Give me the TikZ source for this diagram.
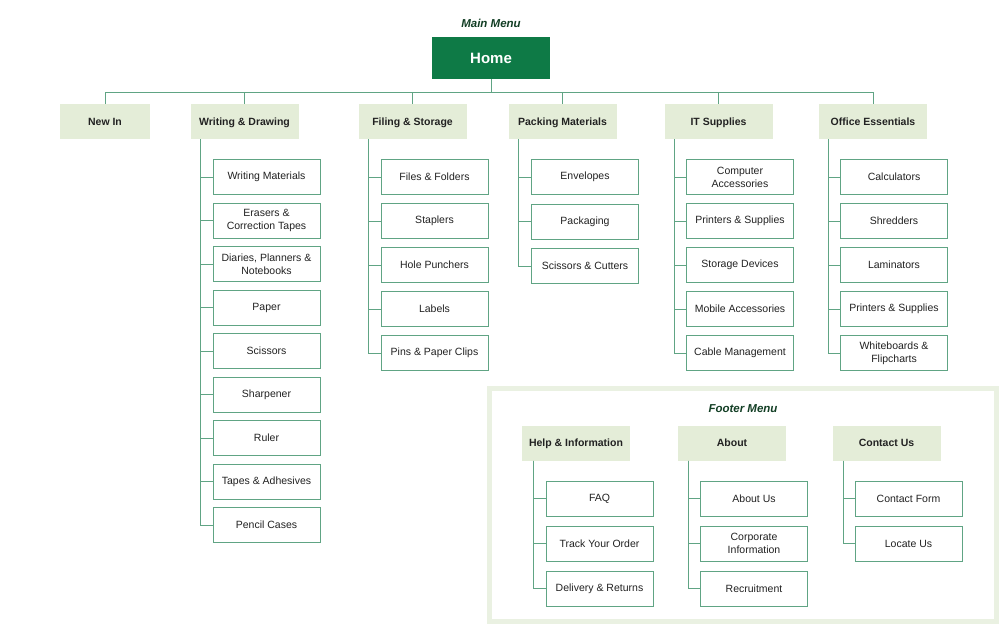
\documentclass[tikz,border=0pt]{standalone}
\usepackage{fontspec}
\setmainfont{Liberation Sans}
\definecolor{homegreen}{RGB}{14,122,70}
\definecolor{titlegreen}{RGB}{18,62,36}
\definecolor{linegreen}{RGB}{96,164,132}
\definecolor{catfill}{RGB}{228,237,216}
\definecolor{framefill}{RGB}{234,241,226}
\definecolor{txt}{RGB}{34,34,34}
\tikzstyle{home}=[
	fill=homegreen,
	text=white,
	minimum width=118pt,
	minimum height=42pt,
	inner sep=0pt,
	font=\bfseries\fontsize{15}{18}\selectfont
]
\tikzstyle{category}=[
	fill=catfill,
	text=txt,
	minimum width=108pt,
	minimum height=35pt,
	text height=7.6pt,
	text depth=0pt,
	inner sep=0pt,
	font=\bfseries\fontsize{10.5}{12}\selectfont
]
\tikzstyle{item}=[
	draw=linegreen,
	fill=white,
	text=txt,
	line width=1pt,
	minimum width=107pt,
	minimum height=35pt,
	inner sep=0pt,
	align=center,
	font=\fontsize{10.5}{13}\selectfont
]
\tikzstyle{heading}=[text=titlegreen,font=\bfseries\itshape\fontsize{11.5}{13}\selectfont]
\tikzstyle{edge}=[draw=linegreen,line width=1pt]

\begin{document}
\begin{tikzpicture}[x=1pt,y=-1pt]
	\useasboundingbox (0,0) rectangle (1000,625);

	% main menu
	\node[heading] (mainmenu) at (491,23) {Main Menu};
	\node[home] (home) at (491,58) {Home};
	\coordinate (bus) at (491,92);

	\node[category,minimum width=90pt] (newin) at (105,121.5) {New In};
	\node[category] (wd) at (244.5,121.5) {Writing \& Drawing};
	\node[category] (fs) at (412.5,121.5) {Filing \& Storage};
	\node[category] (pm) at (562.5,121.5) {Packing Materials};
	\node[category] (it) at (718.5,121.5) {IT Supplies};
	\node[category] (oe) at (873,121.5) {Office Essentials};

	\path[edge] (home.south) -- (bus);
	\foreach \c in {newin,wd,fs,pm,it,oe}
		\path[edge] (\c.north) |- (bus);

	% sub menus
	\foreach \txt [count=\i] in {Writing Materials,{Erasers \&\\Correction Tapes},
		{Diaries, Planners \&\\Notebooks},Paper,Scissors,Sharpener,Ruler,
		Tapes \& Adhesives,Pencil Cases}
		\node[item] (wd\i) at (266.5,{177+43.5*(\i-1)}) {\txt};
	\foreach \txt [count=\i] in {Files \& Folders,Staplers,Hole Punchers,Labels,
		Pins \& Paper Clips}
		\node[item] (fs\i) at (434.5,{177+44*(\i-1)}) {\txt};
	\foreach \txt [count=\i] in {Envelopes,Packaging,Scissors \& Cutters}
		\node[item] (pm\i) at (585,{177+44.5*(\i-1)}) {\txt};
	\foreach \txt [count=\i] in {{Computer\\Accessories},Printers \& Supplies,
		Storage Devices,Mobile Accessories,Cable Management}
		\node[item] (it\i) at (740,{177+44*(\i-1)}) {\txt};
	\foreach \txt [count=\i] in {Calculators,Shredders,Laminators,
		Printers \& Supplies,{Whiteboards \&\\Flipcharts}}
		\node[item] (oe\i) at (894,{177+44*(\i-1)}) {\txt};

	\foreach \i in {1,...,9}
		\path[edge] ([xshift=10pt]wd.south west) |- (wd\i.west);
	\foreach \i in {1,...,5}
		\path[edge] ([xshift=10pt]fs.south west) |- (fs\i.west);
	\foreach \i in {1,...,3}
		\path[edge] ([xshift=10pt]pm.south west) |- (pm\i.west);
	\foreach \i in {1,...,5}
		\path[edge] ([xshift=10pt]it.south west) |- (it\i.west);
	\foreach \i in {1,...,5}
		\path[edge] ([xshift=10pt]oe.south west) |- (oe\i.west);

	% footer menu
	\draw[draw=framefill,line width=5pt] (489.5,388.5) rectangle (996.5,621.5);
	\node[heading] (footermenu) at (743,409) {Footer Menu};

	\node[category] (hi) at (576,443) {Help \& Information};
	\node[category] (ab) at (732,443) {About};
	\node[category] (cu) at (886.5,443) {Contact Us};

	\foreach \txt [count=\i] in {FAQ,Track Your Order,Delivery \& Returns}
		\node[item] (hi\i) at (599.5,{498.5+45*(\i-1)}) {\txt};
	\foreach \txt [count=\i] in {About Us,{Corporate\\Information},Recruitment}
		\node[item] (ab\i) at (754,{498.5+45*(\i-1)}) {\txt};
	\foreach \txt [count=\i] in {Contact Form,Locate Us}
		\node[item] (cu\i) at (908.5,{498.5+45*(\i-1)}) {\txt};

	\foreach \i in {1,...,3}
		\path[edge] ([xshift=12pt]hi.south west) |- (hi\i.west);
	\foreach \i in {1,...,3}
		\path[edge] ([xshift=11pt]ab.south west) |- (ab\i.west);
	\foreach \i in {1,...,2}
		\path[edge] ([xshift=11pt]cu.south west) |- (cu\i.west);

\end{tikzpicture}
\end{document}
